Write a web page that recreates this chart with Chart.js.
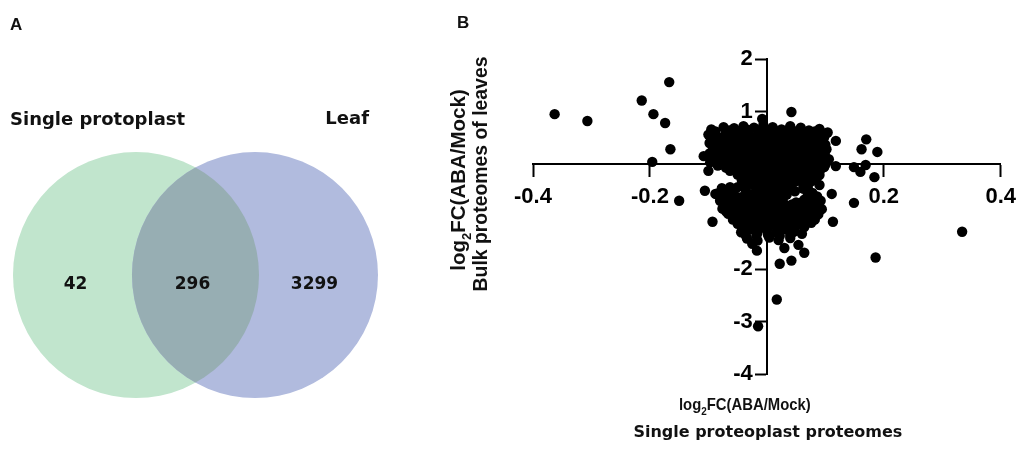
<!DOCTYPE html>
<html>
<head>
<meta charset="utf-8">
<script src="https://cdn.jsdelivr.net/npm/chart.js@4.4.1/dist/chart.umd.min.js"></script>
<style>
  html, body { margin: 0; padding: 0; background: #fff; }
  #wrap { position: relative; width: 1024px; height: 452px; overflow: hidden; }
  .panel { position: absolute; top: 0; }
</style>
</head>
<body>
<div id="wrap">
  <div class="panel" style="left:0;width:440px;height:452px"><canvas id="venn" width="440" height="452"></canvas></div>
  <div class="panel" style="left:440px;width:584px;height:452px"><canvas id="scatter" width="584" height="452"></canvas></div>
</div>
<script>
// ---- panel A : overlap of identified proteins
var vennSets = ['Single protoplast', 'Leaf'];
var vennCounts = [42, 296, 3299];           // only single protoplast, both, only leaf
var vennColors = ['#c1e5cd', '#b1bbde'];
var vennOverlapColor = '#97aeb3';

// ---- panel B : log2FC(ABA/Mock), [single protoplast, bulk leaves]
var xTickLabels = ['-0.4', '-0.2', '', '0.2', '0.4'];
var yTickLabels = ['-4', '-3', '-2', '', '', '1', '2'];

var coreFC = [
  [-0.095,0.66],[-0.074,0.70],[-0.056,0.68],[-0.04,0.72],[-0.022,0.69],[-0.006,0.74],[0.01,0.70],[0.025,0.66],[0.04,0.72],[0.058,0.69],[0.072,0.64],[0.09,0.67],[0.104,0.6],
  [-0.088,0.62],[-0.064,0.64],[-0.048,0.62],[-0.032,0.65],[-0.014,0.63],[0.002,0.65],[0.018,0.62],[0.034,0.64],[0.05,0.62],[0.066,0.6],[0.082,0.62],[0.097,0.58],
  [-0.1,0.56],[-0.085,0.52],[-0.07,0.58],[-0.056,0.54],[-0.042,0.6],[-0.028,0.53],[-0.014,0.59],[0,0.55],[0.014,0.6],[0.028,0.52],[0.042,0.57],[0.056,0.59],[0.07,0.52],[0.084,0.56],[0.098,0.51],
  [-0.092,0.48],[-0.078,0.5],[-0.063,0.47],[-0.049,0.5],[-0.035,0.48],[-0.021,0.5],[-0.007,0.47],[0.007,0.5],[0.021,0.48],[0.035,0.5],[0.049,0.47],[0.063,0.49],[0.077,0.47],[0.091,0.46],
  [-0.098,0.4],[-0.084,0.45],[-0.07,0.38],[-0.056,0.44],[-0.042,0.39],[-0.028,0.46],[-0.014,0.38],[0,0.43],[0.014,0.37],[0.028,0.45],[0.042,0.41],[0.056,0.36],[0.07,0.44],[0.084,0.4],[0.1,0.37],
  [-0.09,0.34],[-0.077,0.32],[-0.063,0.35],[-0.049,0.31],[-0.035,0.35],[-0.021,0.32],[-0.007,0.35],[0.007,0.32],[0.021,0.34],[0.035,0.36],[0.049,0.31],[0.063,0.35],[0.077,0.34],[0.091,0.32],
  [-0.092,0.29],[-0.08,0.23],[-0.066,0.28],[-0.052,0.22],[-0.038,0.3],[-0.024,0.25],[-0.01,0.21],[0.004,0.28],[0.018,0.24],[0.032,0.3],[0.046,0.22],[0.06,0.27],[0.074,0.31],[0.088,0.23],[0.102,0.28],
  [-0.098,0.2],[-0.083,0.18],[-0.069,0.2],[-0.055,0.17],[-0.041,0.2],[-0.027,0.17],[-0.013,0.19],[0.001,0.17],[0.015,0.2],[0.029,0.17],[0.043,0.19],[0.057,0.16],[0.071,0.2],[0.085,0.18],[0.099,0.19],
  [-0.108,0.15],[-0.09,0.1],[-0.076,0.14],[-0.062,0.08],[-0.048,0.13],[-0.034,0.07],[-0.02,0.12],[-0.006,0.08],[0.008,0.14],[0.022,0.09],[0.036,0.13],[0.05,0.07],[0.064,0.12],[0.078,0.08],[0.092,0.13],[0.106,0.09],
  [-0.097,0.03],[-0.083,0.04],[-0.069,0.02],[-0.055,0.04],[-0.041,0.02],[-0.027,0.04],[-0.013,0.01],[0.001,0.04],[0.015,0.02],[0.029,0.04],[0.043,0.01],[0.057,0.04],[0.071,0.02],[0.085,0.04],[0.101,0.01],
  [-0.084,-0.03],[-0.07,-0.07],[-0.056,-0.02],[-0.042,-0.08],[-0.028,-0.03],[-0.014,-0.07],[0,-0.02],[0.014,-0.08],[0.028,-0.04],[0.042,-0.09],[0.056,-0.03],[0.07,-0.07],[0.084,-0.02],[0.098,-0.06],
  [-0.063,-0.13],[-0.049,-0.12],[-0.035,-0.14],[-0.021,-0.11],[-0.007,-0.14],[0.007,-0.12],[0.021,-0.15],[0.035,-0.12],[0.049,-0.14],[0.063,-0.11],[0.077,-0.14],[0.091,-0.12],
  [-0.05,-0.2],[-0.036,-0.25],[-0.022,-0.18],[-0.008,-0.23],[0.006,-0.19],[0.02,-0.26],[0.034,-0.2],[0.048,-0.24],[0.062,-0.18],[0.076,-0.25],[0.09,-0.21],
  [-0.043,-0.3],[-0.029,-0.28],[-0.015,-0.31],[-0.001,-0.28],[0.013,-0.3],[0.027,-0.28],[0.041,-0.31],[0.055,-0.28],[0.069,-0.3],[0.083,-0.29],
  [-0.05,-0.44],[-0.036,-0.35],[-0.022,-0.4],[-0.008,-0.33],[0.006,-0.4],[0.02,-0.35],[0.034,-0.41],[0.048,-0.34],[0.062,-0.38],[0.076,-0.33],[0.09,-0.4],
  [-0.077,-0.46],[-0.063,-0.44],[-0.036,-0.45],[-0.015,-0.46],[-0.001,-0.44],[0.013,-0.46],[0.027,-0.44],[0.041,-0.47],[0.07,-0.44],
  [-0.084,-0.56],[-0.07,-0.52],[-0.056,-0.58],[-0.036,-0.5],[-0.022,-0.56],[-0.008,-0.49],[0.006,-0.55],[0.02,-0.5],[0.034,-0.58],[0.048,-0.52],[0.062,-0.47],[0.078,-0.55],
  [-0.074,-0.61],[-0.06,-0.6],[-0.044,-0.63],[-0.028,-0.6],[-0.014,-0.62],[0,-0.6],[0.014,-0.62],[0.03,-0.6],[0.07,-0.6],[0.086,-0.62],
  [-0.08,-0.7],[-0.064,-0.65],[-0.05,-0.72],[-0.034,-0.66],[-0.02,-0.7],[-0.006,-0.64],[0.008,-0.72],[0.022,-0.66],[0.05,-0.73],[0.064,-0.68],[0.078,-0.64],[0.092,-0.7],
  [-0.07,-0.77],[-0.056,-0.75],[-0.041,-0.78],[-0.027,-0.75],[-0.013,-0.77],[0.001,-0.75],[0.015,-0.78],[0.029,-0.75],[0.043,-0.77],[0.057,-0.74],[0.071,-0.77],[0.086,-0.76],
  [-0.076,-0.85],[-0.062,-0.8],[-0.048,-0.86],[-0.034,-0.79],[-0.02,-0.84],[-0.006,-0.88],[0.008,-0.8],[0.022,-0.86],[0.036,-0.82],[0.05,-0.78],[0.064,-0.85],[0.078,-0.8],[0.094,-0.86],
  [-0.07,-0.9],[-0.055,-0.92],[-0.041,-0.9],[-0.027,-0.92],[-0.013,-0.9],[0.001,-0.93],[0.015,-0.9],[0.029,-0.92],[0.043,-0.89],[0.057,-0.92],[0.071,-0.9],[0.085,-0.91],
  [-0.066,-0.95],[-0.052,-1.0],[-0.038,-0.94],[-0.024,-1.01],[-0.01,-0.96],[0.004,-1.02],[0.018,-0.95],[0.032,-1.0],[0.046,-0.93],[0.06,-0.99],[0.074,-1.03],[0.088,-0.96],
  [-0.058,-1.06],[-0.044,-1.05],[-0.03,-1.07],[-0.016,-1.05],[-0.002,-1.07],[0.012,-1.05],[0.026,-1.07],[0.04,-1.05],[0.054,-1.07],[0.068,-1.05],[0.082,-1.06],
  [-0.05,-1.14],[-0.036,-1.1],[-0.022,-1.16],[-0.008,-1.09],[0.006,-1.15],[0.02,-1.11],[0.034,-1.17],[0.048,-1.1],[0.062,-1.15],[0.076,-1.12],
  [-0.042,-1.21],[-0.028,-1.2],[-0.014,-1.22],[0.002,-1.2],[0.018,-1.22],[0.032,-1.2],[0.048,-1.22],[0.064,-1.2],
  [-0.044,-1.3],[-0.03,-1.25],[-0.016,-1.31],[0,-1.26],[0.016,-1.3],[0.03,-1.24],[0.046,-1.29],[0.06,-1.33],
  [-0.036,-1.36],[-0.018,-1.37],[0.002,-1.35],[0.022,-1.37],[0.04,-1.35],
  [-0.034,-1.42],[-0.016,-1.46],[0.004,-1.4],[0.02,-1.45],[0.04,-1.41]
];

var outlierFC = [
  [-0.363,0.95],[-0.307,0.82],[-0.214,1.21],[-0.194,0.95],[-0.174,0.78],[-0.167,1.56],[-0.165,0.28],[-0.196,0.04],
  [-0.15,-0.7],[-0.1,-0.13],[-0.106,-0.51],[-0.088,-0.57],[-0.093,-1.1],[-0.008,0.86],[0.042,0.99],
  [0.118,0.44],[0.17,0.47],[0.162,0.28],[0.189,0.23],[0.118,-0.04],[0.149,-0.06],[0.169,-0.02],[0.16,-0.15],[0.184,-0.25],
  [0.111,-0.57],[0.149,-0.74],[0.113,-1.1],[0.334,-1.29],[0.186,-1.78],
  [0.03,-1.6],[0.054,-1.54],[0.064,-1.69],[0.022,-1.9],[0.042,-1.84],[-0.017,-1.65],[-0.025,-1.52],[0.017,-2.58],[-0.015,-3.09]
];

var sansBold = 'bold {s}px "Liberation Sans", Arial, sans-serif';
var dejaBold = 'bold {s}px "DejaVu Sans", Verdana, sans-serif';
function fnt(tpl, s) { return tpl.replace('{s}', s); }

// text with a subscript part, e.g. log2 ; centred on x
function richText(ctx, parts, x, y, size, tpl) {
  var sub = Math.round(size * 0.65);
  var widths = parts.map(function (p) {
    ctx.font = fnt(tpl, p[1] ? sub : size);
    return ctx.measureText(p[0]).width;
  });
  var total = widths.reduce(function (a, b) { return a + b; }, 0);
  var cx = x - total / 2;
  ctx.textAlign = 'left';
  ctx.textBaseline = 'alphabetic';
  parts.forEach(function (p, i) {
    ctx.font = fnt(tpl, p[1] ? sub : size);
    ctx.fillText(p[0], cx, p[1] ? y + size * 0.28 : y);
    cx += widths[i];
  });
}
var log2Parts = [['log', false], ['2', true], ['FC(ABA/Mock)', false]];

var vennText = {
  id: 'vennText',
  afterDatasetsDraw: function (chart) {
    var ctx = chart.ctx;
    var els = chart.getDatasetMeta(0).data;
    var a = els[0], b = els[1];
    var ra = a.options.radius, rb = b.options.radius;
    ctx.save();
    // shared region
    ctx.beginPath();
    ctx.arc(a.x, a.y, ra, 0, Math.PI * 2);
    ctx.clip();
    ctx.beginPath();
    ctx.arc(b.x, b.y, rb, 0, Math.PI * 2);
    ctx.fillStyle = vennOverlapColor;
    ctx.fill();
    ctx.restore();

    ctx.save();
    ctx.fillStyle = '#111';
    ctx.textBaseline = 'middle';
    ctx.textAlign = 'center';
    ctx.font = fnt(dejaBold, 17);
    var cy = a.y + 10;
    ctx.fillText(vennCounts[0], ((a.x - ra) + (b.x - rb)) / 2 + 3, cy);
    ctx.fillText(vennCounts[1], ((b.x - rb) + (a.x + ra)) / 2 - 3, cy);
    ctx.fillText(vennCounts[2], ((a.x + ra) + (b.x + rb)) / 2 - 4, cy);

    ctx.font = fnt(dejaBold, 18);
    ctx.textAlign = 'left';
    ctx.fillText(vennSets[0], a.x - ra - 3, a.y - ra - 32);
    ctx.textAlign = 'right';
    ctx.fillText(vennSets[1], b.x + rb - 9, a.y - ra - 33);

    ctx.font = fnt(sansBold, 17);
    ctx.textAlign = 'left';
    ctx.textBaseline = 'alphabetic';
    ctx.fillText('A', 10, 30);
    ctx.restore();
  }
};

new Chart(document.getElementById('venn'), {
  type: 'bubble',
  data: {
    datasets: [{
      data: vennSets.map(function (s, i) { return { x: i, y: 0, r: 123 }; }),
      backgroundColor: vennColors,
      borderWidth: 0,
      hoverRadius: 0,
      clip: false
    }]
  },
  options: {
    responsive: false,
    animation: false,
    events: [],
    layout: { padding: 0, autoPadding: false },
    plugins: { legend: { display: false }, tooltip: { enabled: false } },
    scales: {
      x: { type: 'linear', display: false, min: -1.143, max: 2.555 },
      y: { type: 'linear', display: false, min: -1.487, max: 2.311 }
    }
  },
  plugins: [vennText]
});

// y labels of an axis placed at x = 0 sit right on the line; move them past the ticks
var yLabelGap = 14;
var yLabelShift = {
  id: 'yLabelShift',
  beforeDraw: function (chart) {
    chart.scales.y.getLabelItems(chart.chartArea).forEach(function (it) {
      if (!it._moved) { it.options.translation[0] -= yLabelGap; it._moved = true; }
    });
  }
};

var axisTitles = {
  id: 'axisTitles',
  afterDraw: function (chart) {
    var ctx = chart.ctx;
    var area = chart.chartArea;
    var cx = (area.left + area.right) / 2;
    ctx.save();
    ctx.fillStyle = '#111';
    // x title
    ctx.save();
    ctx.translate(cx - 22, 410);
    ctx.scale(0.9, 1);
    richText(ctx, log2Parts, 0, 0, 16.5, sansBold);
    ctx.restore();
    ctx.font = fnt(dejaBold, 16);
    ctx.textAlign = 'center';
    ctx.fillText('Single proteoplast proteomes', cx + 1, 437);
    // y title (rotated)
    ctx.save();
    ctx.translate(25, 180);
    ctx.rotate(-Math.PI / 2);
    richText(ctx, log2Parts, 0, 0, 20.5, sansBold);
    ctx.restore();
    ctx.save();
    ctx.translate(47, 174);
    ctx.rotate(-Math.PI / 2);
    ctx.font = fnt(sansBold, 19.4);
    ctx.textAlign = 'center';
    ctx.textBaseline = 'alphabetic';
    ctx.fillText('Bulk proteomes of leaves', 0, 0);
    ctx.restore();
    // panel letter
    ctx.font = fnt(sansBold, 17);
    ctx.textAlign = 'left';
    ctx.fillText('B', 17, 28);
    ctx.restore();
  }
};

var tickFont = { family: '"Liberation Sans", Arial, sans-serif', weight: 'bold', size: 22 };

new Chart(document.getElementById('scatter'), {
  type: 'scatter',
  data: {
    datasets: [{
      data: coreFC.concat(outlierFC).map(function (p) { return { x: p[0], y: p[1] }; }),
      backgroundColor: '#000',
      borderWidth: 0,
      pointRadius: 5.2,
      pointHoverRadius: 5.2
    }]
  },
  options: {
    responsive: false,
    animation: false,
    events: [],
    layout: { padding: { left: 93, right: 17, top: 59, bottom: 78 } },
    plugins: { legend: { display: false }, tooltip: { enabled: false } },
    scales: {
      x: {
        type: 'linear',
        position: { y: 0 },
        min: -0.4, max: 0.4,
        afterFit: function (s) { s.height = 0; },
        border: { color: '#000', width: 2 },
        grid: { drawOnChartArea: false, tickLength: 12, tickWidth: 2, tickColor: '#000' },
        ticks: {
          stepSize: 0.2, padding: 8, color: '#000', font: tickFont,
          maxRotation: 0, autoSkip: false,
          callback: function (v, i) { return xTickLabels[i]; }
        }
      },
      y: {
        type: 'linear',
        position: { x: 0 },
        min: -4, max: 2,
        afterFit: function (s) { s.width = 0; },
        border: { color: '#000', width: 2 },
        grid: { drawOnChartArea: false, tickLength: 11, tickWidth: 2, tickColor: '#000' },
        ticks: {
          stepSize: 1, color: '#000', font: tickFont, autoSkip: false,
          callback: function (v, i) { return yTickLabels[i]; }
        }
      }
    }
  },
  plugins: [yLabelShift, axisTitles]
});
</script>
</body>
</html>
